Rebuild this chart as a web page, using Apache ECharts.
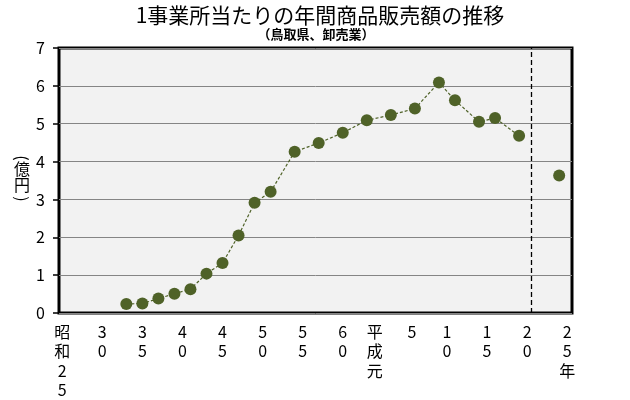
<!DOCTYPE html>
<html>
<head>
<meta charset="utf-8">
<script src="https://cdn.jsdelivr.net/npm/echarts@6/dist/echarts.min.js"></script>
<style>
html,body{margin:0;padding:0;background:#fff;}
#chart{width:630px;height:400px;}
</style>
</head>
<body>
<div id="chart"></div>
<script>
// ---- data ----
const titleText = '1事業所当たりの年間商品販売額の推移';
const subtitleText = '（鳥取県、卸売業）';
const yAxisUnit = '億円';
const years = [1958, 1960, 1962, 1964, 1966, 1968, 1970, 1972, 1974, 1976, 1979, 1982, 1985, 1988, 1991, 1994, 1997, 1999, 2002, 2004, 2007];
const values = [0.24, 0.25, 0.38, 0.51, 0.63, 1.04, 1.32, 2.05, 2.91, 3.20, 4.26, 4.49, 4.76, 5.09, 5.23, 5.40, 6.09, 5.62, 5.05, 5.15, 4.68];
const afterYears = [2012];
const afterValues = [3.63];
const breakYear = 2008.5;
const tickYears = [1950, 1955, 1960, 1965, 1970, 1975, 1980, 1985, 1989, 1993, 1998, 2003, 2008, 2013];
const tickLabels = ['昭和25', '30', '35', '40', '45', '50', '55', '60', '平成元', '5', '10', '15', '20', '25年'];
const yMin = 0, yMax = 7, yStep = 1;

// ---- chart ----
const font = '"Noto Sans CJK JP", "Noto Sans", sans-serif';
const chart = echarts.init(document.getElementById('chart'), null, {renderer: 'canvas'});
const labelMap = {};
tickYears.forEach((y, i) => { labelMap[y] = tickLabels[i]; });

const nameStyle = {font: '16px ' + font, fill: '#000', align: 'center', verticalAlign: 'middle'};
const option = {
  animation: false,
  backgroundColor: '#ffffff',
  title: [
    {text: titleText, left: 315, top: 0, textAlign: 'center',
     textStyle: {fontFamily: font, fontSize: 21, fontWeight: 'normal', color: '#000'}},
    {text: subtitleText, left: 311, top: 23, textAlign: 'center',
     textStyle: {fontFamily: font, fontSize: 13, fontWeight: 'bold', color: '#000'}}
  ],
  graphic: [
    {type: 'text', x: 22, y: 158, rotation: -Math.PI / 2,
     style: Object.assign({text: '('}, nameStyle)},
    {type: 'text', x: 22, y: 177,
     style: Object.assign({text: yAxisUnit.split('').join('\n'), lineHeight: 16}, nameStyle)},
    {type: 'text', x: 22, y: 199, rotation: -Math.PI / 2,
     style: Object.assign({text: ')'}, nameStyle)}
  ],
  grid: {
    left: 59, right: 58, top: 48, bottom: 83,
    show: true, backgroundColor: '#f2f2f2', borderColor: '#000', borderWidth: 3
  },
  xAxis: {
    type: 'value', min: 1949.6, max: 2013.6,
    axisLine: {show: false}, axisTick: {show: false}, splitLine: {show: false},
    axisLabel: {
      customValues: tickYears,
      margin: 9,
      fontFamily: font, fontSize: 16, lineHeight: 19.5, color: '#000',
      formatter: function (v) {
        const key = Math.round(v);
        const t = labelMap[key];
        if (t === undefined) return '';
        const s = t.split('').join('\n');
        if (t === '5') return '{s|' + s + '}';
        return s;
      },
      rich: {s: {fontFamily: font, fontSize: 16, lineHeight: 19.5, color: '#000', padding: [0, 0, 0, 10]}}
    }
  },
  yAxis: {
    type: 'value', min: yMin, max: yMax, interval: yStep,
    axisLine: {show: false},
    axisTick: {show: true, length: 6, lineStyle: {color: '#000', width: 1.5}},
    splitLine: {show: true, lineStyle: {color: '#858585', width: 1}},
    axisLabel: {margin: 14, fontFamily: font, fontSize: 16, color: '#000'}
  },
  series: [
    {
      type: 'line',
      data: years.map((y, i) => [y, values[i]]),
      symbol: 'circle', symbolSize: 12,
      itemStyle: {color: '#4F6228'},
      lineStyle: {color: '#4F6228', width: 1.2, type: [3, 2]},
      z: 5
    },
    {
      type: 'line',
      data: afterYears.map((y, i) => [y, afterValues[i]]),
      symbol: 'circle', symbolSize: 12,
      itemStyle: {color: '#4F6228'},
      lineStyle: {color: '#4F6228', width: 1.2, type: [3, 2]},
      z: 5,
      markLine: {
        silent: true, symbol: ['none', 'none'], label: {show: false},
        lineStyle: {color: '#000', width: 1.3, type: [5, 3]},
        data: [{xAxis: breakYear}]
      }
    }
  ]
};
chart.setOption(option);
</script>
</body>
</html>
